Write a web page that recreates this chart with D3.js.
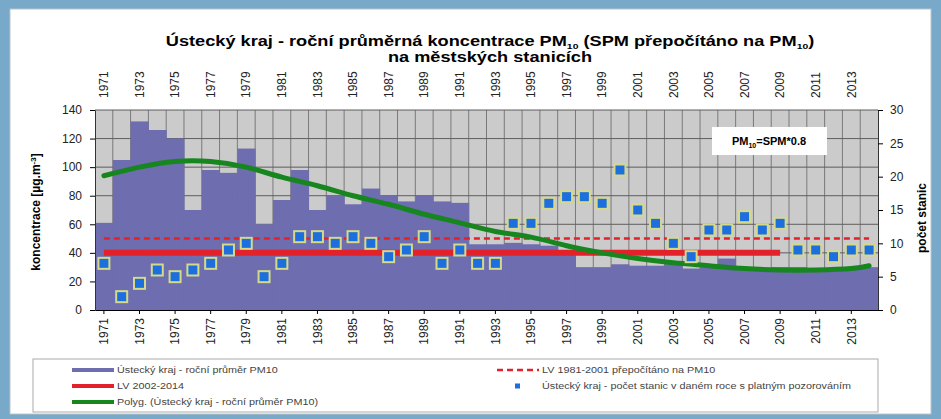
<!DOCTYPE html>
<html lang="cs">
<head>
<meta charset="UTF-8">
<title>Ústecký kraj - roční průměrná koncentrace PM10</title>
<script src="https://d3js.org/d3.v7.min.js"></script>
<style>
  body { margin: 0; background: #79a9c9; }
  svg { display: block; font-family: Arial, "Liberation Sans", sans-serif; }
</style>
</head>
<body>
<svg id="chart" width="941" height="419"></svg>
<script>
// categories
const years = [1971, 1972, 1973, 1974, 1975, 1976, 1977, 1978, 1979, 1980,
  1981, 1982, 1983, 1984, 1985, 1986, 1987, 1988, 1989, 1990,
  1991, 1992, 1993, 1994, 1995, 1996, 1997, 1998, 1999, 2000,
  2001, 2002, 2003, 2004, 2005, 2006, 2007, 2008, 2009, 2010,
  2011, 2012, 2013, 2014];
const yearLabels = [1971, 1973, 1975, 1977, 1979, 1981, 1983, 1985, 1987, 1989, 1991,
  1993, 1995, 1997, 1999, 2001, 2003, 2005, 2007, 2009, 2011, 2013];

// annual mean PM10 [ug/m3]
const pm10 = [61, 105, 132, 126, 120, 70, 98, 96, 113, 60,
  77, 98, 70, 80, 74, 85, 80, 76, 80, 76,
  75, 46, 46, 47, 46, 45, 41, 30, 30, 32,
  31, 31, 33, 29, 30, 36, 30, 29, 30, 30,
  29, 29, 30, 30];

// number of stations (right axis)
const stations = [7, 2, 4, 6, 5, 6, 7, 9, 10, 5,
  7, 11, 11, 10, 11, 10, 8, 9, 11, 7,
  9, 7, 7, 13, 13, 16, 17, 17, 16, 21,
  15, 13, 10, 8, 12, 12, 14, 12, 13, 9,
  9, 8, 9, 9];

// polynomial trend
const trendYears = [1971, 1973, 1975, 1977, 1979, 1981, 1983, 1985, 1987, 1989, 1991,
  1993, 1995, 1997, 1999, 2001, 2003, 2005, 2007, 2009, 2011, 2013, 2014];
const trendValues = [94, 100, 104, 104, 100, 93, 87, 80, 74, 67, 61,
  55, 51, 45, 40, 36, 33, 31, 29, 28, 28, 29, 31];

// limit values
const lvOld = 50, lvOldFrom = 1971, lvOldTo = 2014;
const lvNew = 40, lvNewFrom = 1971, lvNewTo = 2009;

const leftTicks = [0, 20, 40, 60, 80, 100, 120, 140];
const rightTicks = [0, 5, 10, 15, 20, 25, 30];

const legendItems = [
  "Ústecký kraj - roční průměr PM10",
  "LV 2002-2014",
  "Polyg. (Ústecký kraj - roční průměr PM10)",
  "LV 1981-2001 přepočítáno na PM10",
  "Ústecký kraj - počet stanic v daném roce s platným pozorováním"
];

const purple = "#6d6db0", red = "#e3212b", green = "#17861f", blue = "#1c6fdc";

const svg = d3.select("#chart");

// white panel
svg.append("rect").attr("x", 10).attr("y", 9).attr("width", 921).attr("height", 405)
  .attr("fill", "#fff").attr("stroke", "#b8c4cc");

// title (the original font is wide, so stretch it a bit)
const tg = svg.append("g").attr("transform", "translate(490,0) scale(1.3,1)")
  .attr("font-size", 14).attr("font-weight", "bold").attr("text-anchor", "middle");
const title = tg.append("text").attr("x", 0).attr("y", 46);
title.append("tspan").text("Ústecký kraj - roční průměrná koncentrace PM");
title.append("tspan").attr("font-size", 8).attr("dy", 3).text("10");
title.append("tspan").attr("dy", -3).text(" (SPM přepočítáno na PM");
title.append("tspan").attr("font-size", 8).attr("dy", 3).text("10");
title.append("tspan").attr("dy", -3).text(")");
tg.append("text").attr("x", 0).attr("y", 62).text("na městských stanicích");

// scales
const x = d3.scaleBand().domain(years).range([95, 878]).padding(0);
const y = d3.scaleLinear().domain([0, 140]).range([310, 110]);
const y2 = d3.scaleLinear().domain([0, 30]).range([310, 110]);
const cx = d => x(d) + x.bandwidth() / 2;

// plot area + grid
svg.append("rect").attr("x", 95).attr("y", 110).attr("width", 783).attr("height", 200)
  .attr("fill", "#cbcbcb");
svg.append("g").selectAll("line").data(years.slice(1)).join("line")
  .attr("x1", d => x(d)).attr("x2", d => x(d)).attr("y1", 110).attr("y2", 310)
  .attr("stroke", "#7a7a7a").attr("stroke-width", 1);
svg.append("g").selectAll("line").data(leftTicks).join("line")
  .attr("x1", 95).attr("x2", 878).attr("y1", d => y(d)).attr("y2", d => y(d))
  .attr("stroke", "#5e5e5e").attr("stroke-width", 1);

// bars
svg.append("g").selectAll("rect").data(years).join("rect")
  .attr("x", d => x(d)).attr("width", x.bandwidth() + 0.5)
  .attr("y", (d, i) => y(pm10[i])).attr("height", (d, i) => y(0) - y(pm10[i]))
  .attr("fill", purple);

// limit lines
svg.append("line").attr("x1", cx(lvOldFrom)).attr("x2", cx(lvOldTo))
  .attr("y1", y(lvOld)).attr("y2", y(lvOld))
  .attr("stroke", red).attr("stroke-width", 2.5).attr("stroke-dasharray", "6,4");
svg.append("line").attr("x1", cx(lvNewFrom)).attr("x2", cx(lvNewTo))
  .attr("y1", y(lvNew)).attr("y2", y(lvNew))
  .attr("stroke", red).attr("stroke-width", 6);

// trend
const trendLine = d3.line().curve(d3.curveNatural)
  .x((d, i) => cx(trendYears[i])).y(d => y(d));
svg.append("path").datum(trendValues).attr("d", trendLine)
  .attr("fill", "none").attr("stroke", green).attr("stroke-width", 5)
  .attr("stroke-linecap", "round");

// station markers
svg.append("g").selectAll("rect").data(years).join("rect")
  .attr("x", d => cx(d) - 5.5).attr("y", (d, i) => y2(stations[i]) - 5.5)
  .attr("width", 11).attr("height", 11)
  .attr("fill", blue).attr("stroke", "#d6d98a").attr("stroke-width", 2);

// annotation box
svg.append("rect").attr("x", 712).attr("y", 127).attr("width", 115).attr("height", 28)
  .attr("fill", "#fff");
const note = svg.append("text").attr("x", 769).attr("y", 145)
  .attr("text-anchor", "middle").attr("font-size", 11).attr("font-weight", "bold");
note.append("tspan").text("PM");
note.append("tspan").attr("font-size", 7).attr("dy", 3).text("10");
note.append("tspan").attr("dy", -3).text("=SPM*0.8");

// axes
const fmt = g => g.selectAll("text").attr("font-size", 12).attr("fill", "#222");
svg.append("g").attr("transform", "translate(95,0)")
  .call(d3.axisLeft(y).tickValues(leftTicks).tickSize(5).tickPadding(8).tickSizeOuter(0))
  .call(fmt).call(g => g.select(".domain").attr("stroke", "#333"));
svg.append("g").attr("transform", "translate(878,0)")
  .call(d3.axisRight(y2).tickValues(rightTicks).tickSize(5).tickPadding(7).tickSizeOuter(0))
  .call(fmt).call(g => g.select(".domain").attr("stroke", "#333"));

svg.append("g").attr("transform", "translate(0,310)")
  .call(d3.axisBottom(x).tickValues(yearLabels).tickSize(4).tickSizeOuter(0))
  .call(fmt)
  .call(g => g.selectAll("text").attr("transform", "rotate(-90)")
    .attr("x", -8).attr("y", 0).attr("dy", "0.35em").style("text-anchor", "end"));
svg.append("g").attr("transform", "translate(0,110)")
  .call(d3.axisTop(x).tickValues(yearLabels).tickSize(0).tickSizeOuter(0))
  .call(fmt)
  .call(g => g.select(".domain").remove())
  .call(g => g.selectAll("text").attr("transform", "rotate(-90)")
    .attr("x", 12).attr("y", 0).attr("dy", "0.35em").style("text-anchor", "start"));

// axis titles
const lt = svg.append("text").attr("transform", "translate(40,212) rotate(-90)")
  .attr("text-anchor", "middle").attr("font-size", 12).attr("font-weight", "bold");
lt.append("tspan").text("koncentrace [µg.m");
lt.append("tspan").attr("font-size", 8).attr("dy", -4).text("-3");
lt.append("tspan").attr("dy", 4).text("]");
svg.append("text").attr("transform", "translate(926,218) rotate(-90)")
  .attr("text-anchor", "middle").attr("font-size", 12).attr("font-weight", "bold")
  .text("počet stanic");

// legend
svg.append("rect").attr("x", 33).attr("y", 359).attr("width", 845).attr("height", 53)
  .attr("fill", "#fff").attr("stroke", "#aaa");
const lg = svg.append("g").attr("font-size", 9).attr("fill", "#444");
const rowY = [370, 386, 402];
lg.append("line").attr("x1", 72).attr("x2", 114).attr("y1", rowY[0]).attr("y2", rowY[0])
  .attr("stroke", purple).attr("stroke-width", 4);
lg.append("line").attr("x1", 72).attr("x2", 114).attr("y1", rowY[1]).attr("y2", rowY[1])
  .attr("stroke", red).attr("stroke-width", 4);
lg.append("line").attr("x1", 72).attr("x2", 114).attr("y1", rowY[2]).attr("y2", rowY[2])
  .attr("stroke", green).attr("stroke-width", 4);
lg.append("line").attr("x1", 497).attr("x2", 539).attr("y1", rowY[0]).attr("y2", rowY[0])
  .attr("stroke", red).attr("stroke-width", 2.5).attr("stroke-dasharray", "6,4");
lg.append("rect").attr("x", 515).attr("y", rowY[1] - 2.5).attr("width", 5).attr("height", 5)
  .attr("fill", blue);
[[117, rowY[0]], [117, rowY[1]], [117, rowY[2]], [542, rowY[0]], [542, rowY[1]]]
  .forEach((p, i) => lg.append("text")
    .attr("transform", `translate(${p[0]},${p[1]}) scale(1.2,1)`)
    .attr("dy", "0.35em").text(legendItems[i]));
</script>
</body>
</html>
